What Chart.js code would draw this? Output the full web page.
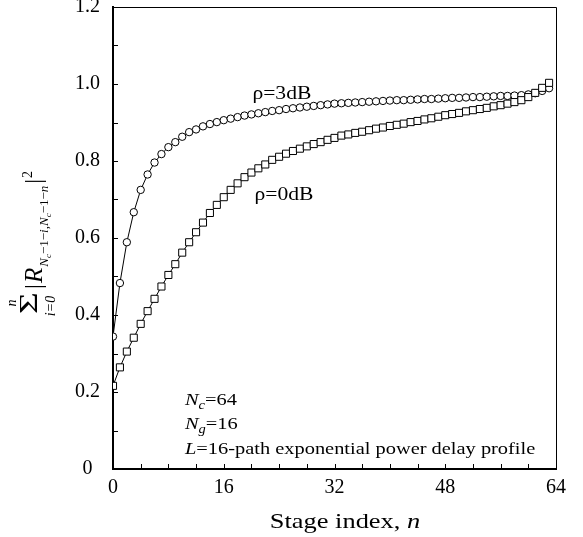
<!DOCTYPE html>
<html>
<head>
<meta charset="utf-8">
<script src="https://cdn.jsdelivr.net/npm/chart.js@4"></script>
<style>
  html, body { margin: 0; padding: 0; background: #fff; }
  #wrap { width: 583px; height: 537px; }
</style>
</head>
<body>
<div id="wrap"><canvas id="chart" width="583" height="537"></canvas></div>
<script>
// stage index n (0 .. Nc-1)
const stageIndex = [
  0, 1, 2, 3, 4, 5, 6, 7, 8, 9, 10, 11, 12, 13, 14, 15,
  16, 17, 18, 19, 20, 21, 22, 23, 24, 25, 26, 27, 28, 29, 30, 31,
  32, 33, 34, 35, 36, 37, 38, 39, 40, 41, 42, 43, 44, 45, 46, 47,
  48, 49, 50, 51, 52, 53, 54, 55, 56, 57, 58, 59, 60, 61, 62, 63
];

// rho = 3dB (circles)
const rho3dB = [
  0.344, 0.483, 0.589, 0.667, 0.725, 0.765, 0.796, 0.818, 0.836, 0.849, 0.863, 0.875, 0.882, 0.890, 0.896, 0.901,
  0.906, 0.910, 0.914, 0.918, 0.921, 0.924, 0.927, 0.930, 0.932, 0.935, 0.937, 0.939, 0.941, 0.943, 0.945, 0.947,
  0.949, 0.950, 0.951, 0.952, 0.953, 0.954, 0.955, 0.956, 0.957, 0.958, 0.958, 0.959, 0.960, 0.961, 0.961, 0.962,
  0.963, 0.964, 0.964, 0.965, 0.966, 0.966, 0.967, 0.968, 0.969, 0.969, 0.970, 0.971, 0.973, 0.976, 0.982, 0.989
];

// rho = 0dB (squares)
const rho0dB = [
  0.216, 0.264, 0.305, 0.341, 0.377, 0.410, 0.442, 0.474, 0.504, 0.532, 0.562, 0.589, 0.615, 0.640, 0.665, 0.686,
  0.706, 0.725, 0.742, 0.758, 0.770, 0.781, 0.791, 0.803, 0.811, 0.819, 0.826, 0.832, 0.838, 0.844, 0.849, 0.855,
  0.860, 0.866, 0.869, 0.873, 0.876, 0.880, 0.884, 0.887, 0.891, 0.894, 0.897, 0.901, 0.904, 0.908, 0.911, 0.915,
  0.919, 0.922, 0.925, 0.929, 0.932, 0.935, 0.938, 0.942, 0.945, 0.949, 0.953, 0.958, 0.966, 0.977, 0.990, 1.003
];

const xTickLabels = [0, 16, 32, 48, 64];
const xMinorTicks = [0, 4, 8, 12, 16, 20, 24, 28, 32, 36, 40, 44, 48, 52, 56, 60, 64];
const yMinorTicks = [0, 0.1, 0.2, 0.3, 0.4, 0.5, 0.6, 0.7, 0.8, 0.9, 1.0, 1.1, 1.2];

const serif = '"Liberation Serif", "Times New Roman", serif';
const WIDE = 1.2; // the original figure's lettering is a bit wider than plain Times

const toPoints = (ys) => stageIndex.map((n, i) => ({ x: n, y: ys[i] }));

// draw a run of [text, font, dy] pieces, horizontally widened; returns end x
function run(ctx, parts, px, py, sx = WIDE) {
  parts.forEach(([txt, font, dy]) => {
    ctx.font = font;
    ctx.save();
    ctx.translate(px, py + dy);
    ctx.scale(sx, 1);
    ctx.fillText(txt, 0, 0);
    ctx.restore();
    px += ctx.measureText(txt).width * sx;
  });
  return px;
}

function runWidth(ctx, parts, sx = WIDE) {
  let w = 0;
  parts.forEach(([txt, font]) => { ctx.font = font; w += ctx.measureText(txt).width * sx; });
  return w;
}

// inward tick marks, frame, annotations and axis titles
const decorations = {
  id: 'decorations',
  afterDraw(chart) {
    const { ctx, chartArea: a, scales: { x, y } } = chart;
    ctx.save();
    ctx.strokeStyle = '#000';
    ctx.fillStyle = '#000';

    // top / right frame
    ctx.lineWidth = 1;
    ctx.beginPath();
    ctx.moveTo(a.left, a.top + 0.5);
    ctx.lineTo(a.right + 0.5, a.top + 0.5);
    ctx.lineTo(a.right + 0.5, a.bottom);
    ctx.stroke();

    // ticks pointing into the plot
    ctx.beginPath();
    xMinorTicks.forEach(v => {
      const px = Math.round(x.getPixelForValue(v)) + 0.5;
      ctx.moveTo(px, a.bottom);
      ctx.lineTo(px, a.bottom - 5);
    });
    yMinorTicks.forEach(v => {
      const py = Math.round(y.getPixelForValue(v)) + 0.5;
      ctx.moveTo(a.left, py);
      ctx.lineTo(a.left + 5, py);
    });
    ctx.stroke();

    ctx.textAlign = 'left';
    ctx.textBaseline = 'alphabetic';
    const rm18 = '18px ' + serif;

    // curve labels (centred)
    [['\u03C1=3dB', 24.4, 0.962], ['\u03C1=0dB', 24.7, 0.70]].forEach(([t, dx, dy]) => {
      const parts = [[t, rm18, 0]];
      const w = runWidth(ctx, parts);
      run(ctx, parts, x.getPixelForValue(dx) - w / 2, y.getPixelForValue(dy));
    });

    // parameter block
    const it = 'italic 17px ' + serif, rm = '17px ' + serif, sub = 'italic 12px ' + serif;
    const px0 = x.getPixelForValue(10.4);
    run(ctx, [['N', it, 0], ['c', sub, 4], ['=64', rm, 0]], px0, 405);
    run(ctx, [['N', it, 0], ['g', sub, 4], ['=16', rm, 0]], px0, 429);
    run(ctx, [['L', it, 0], ['=16-path exponential power delay profile', rm, 0]], px0, 454);

    // x-axis title
    const tParts = [['Stage index, ', '22px ' + serif, 0], ['n', 'italic 22px ' + serif, 0]];
    const tw = runWidth(ctx, tParts);
    run(ctx, tParts, 345 - tw / 2, 528);

    // y-axis title, rotated to read bottom-to-top
    ctx.translate(42, 322);
    ctx.rotate(-Math.PI / 2);
    ctx.textAlign = 'center';
    ctx.save();
    ctx.translate(19, -5);
    ctx.scale(1.5, 1);
    ctx.font = '25px ' + serif;
    ctx.fillText('\u03A3', 0, 0);
    ctx.restore();
    ctx.font = 'italic 14px ' + serif;
    ctx.fillText('n', 19, -26);
    ctx.fillText('i=0', 16, 13);
    ctx.textAlign = 'left';
    ctx.font = '24px ' + serif;
    ctx.fillText('|', 33, -1);
    ctx.font = 'italic 25px ' + serif;
    ctx.fillText('R', 39, 0);
    let u = 39 + ctx.measureText('R').width + 1;
    const s1 = 'italic 13px ' + serif, s2 = 'italic 9px ' + serif, s3 = '13px ' + serif;
    const subParts = [['N', s1, 6], ['c', s2, 9], ['\u22121\u2212', s3, 6], ['i', s1, 6], [',', s3, 6],
                      ['N', s1, 6], ['c', s2, 9], ['\u22121\u2212', s3, 6], ['n', s1, 6]];
    subParts.forEach(([txt, font, dv]) => {
      ctx.font = font;
      ctx.fillText(txt, u, dv);
      u += ctx.measureText(txt).width;
    });
    ctx.font = '24px ' + serif;
    ctx.fillText('|', u + 2, -1);
    u += 2 + ctx.measureText('|').width + 1;
    ctx.font = '14px ' + serif;
    ctx.fillText('2', u, -10);

    ctx.restore();
  }
};

new Chart(document.getElementById('chart'), {
  type: 'line',
  data: {
    datasets: [
      {
        label: '\u03C1=0dB',
        data: toPoints(rho0dB),
        borderColor: '#000',
        borderWidth: 1,
        pointStyle: 'rect',
        pointRadius: 5,
        pointBorderWidth: 1,
        pointBorderColor: '#000',
        pointBackgroundColor: '#fff',
        tension: 0,
      },
      {
        label: '\u03C1=3dB',
        data: toPoints(rho3dB),
        borderColor: '#000',
        borderWidth: 1,
        pointStyle: 'circle',
        pointRadius: 3.7,
        pointBorderWidth: 1,
        pointBorderColor: '#000',
        pointBackgroundColor: '#fff',
        tension: 0,
      }
    ]
  },
  options: {
    responsive: false,
    animation: false,
    events: [],
    layout: { padding: { left: 0, top: 7, right: 27, bottom: 0 } },
    plugins: {
      legend: { display: false },
      tooltip: { enabled: false },
    },
    scales: {
      x: {
        type: 'linear',
        min: 0,
        max: 64,
        grid: { display: false, drawTicks: false },
        border: { display: true, color: '#000', width: 2 },
        afterBuildTicks: (scale) => { scale.ticks = xTickLabels.map(v => ({ value: v })); },
        ticks: {
          color: '#000',
          font: { family: serif, size: 20 },
          padding: 7,
          maxRotation: 0,
        },
        afterFit: (scale) => { scale.height = 68; scale.paddingLeft = 0; scale.paddingRight = 0; },
      },
      y: {
        min: 0,
        max: 1.2,
        grid: { display: false, drawTicks: false },
        border: { display: true, color: '#000', width: 2 },
        ticks: {
          stepSize: 0.2,
          color: '#000',
          font: { family: serif, size: 20 },
          padding: 13,
          crossAlign: 'center',
          callback: (v) => (v === 0 ? '0' : v.toFixed(1)),
        },
        afterFit: (scale) => { scale.width = 113; scale.paddingTop = 0; scale.paddingBottom = 0; },
      }
    }
  },
  plugins: [decorations]
});
</script>
</body>
</html>
